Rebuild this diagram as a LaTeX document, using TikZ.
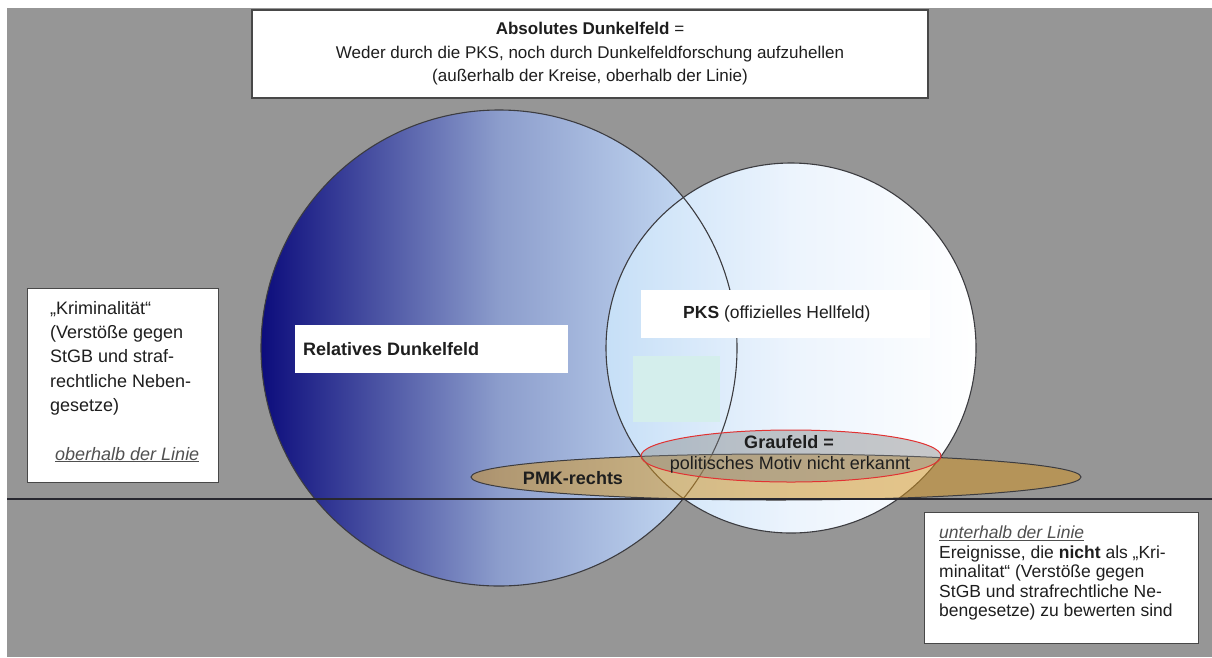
\documentclass[tikz,border=0pt]{standalone}
\usepackage{fontspec}
\setmainfont{Liberation Sans}
\usetikzlibrary{positioning}
\definecolor{bggray}{RGB}{150,150,150}
\definecolor{navydark}{RGB}{12,12,124}
\definecolor{navymid}{RGB}{140,157,204}
\definecolor{skylight}{RGB}{208,230,251}
\definecolor{hellleft}{RGB}{198,223,247}
\definecolor{hellmid}{RGB}{236,244,253}
\definecolor{circline}{RGB}{60,60,64}
\definecolor{boxline}{RGB}{72,72,72}
\definecolor{textdark}{RGB}{30,30,30}
\definecolor{notegray}{RGB}{80,80,80}
\definecolor{palecyan}{RGB}{212,238,236}
\definecolor{pmktan}{RGB}{210,148,35}
\definecolor{graured}{RGB}{225,50,50}
\definecolor{graufill}{RGB}{128,128,128}
\definecolor{linedark}{RGB}{40,40,48}
\begin{document}
\begin{tikzpicture}[x=1pt,y=-1pt,
  infobox/.style={draw=boxline, fill=white, line width=1.2pt},
  plaintext/.style={inner sep=0pt, text=textdark},
  whitebox/.style={fill=white, inner sep=0pt}]
\useasboundingbox (0,0) rectangle (1212,657);
\fill[bggray] (7,8) rectangle (1212,657);
% circles
\coordinate (dunkelc) at (499,348);
\coordinate (hellc) at (791,348);
\path[left color=navydark, right color=skylight, middle color=navymid] (dunkelc) circle[radius=238pt];
\path[left color=hellleft, right color=white, middle color=hellmid] (hellc) circle[radius=185pt];
\draw[circline, line width=1.1pt] (dunkelc) circle[radius=238pt];
\draw[circline, line width=1.1pt] (hellc) circle[radius=185pt];
% boxes inside the circles
\node[whitebox, minimum width=273pt, minimum height=48pt, anchor=north west] (relbox) at (295,325) {};
\node[plaintext, right=8pt of relbox.west, font=\bfseries\fontsize{18}{20}\selectfont] (reltext) {Relatives Dunkelfeld};
\node[whitebox, minimum width=289pt, minimum height=48pt, anchor=north west] (pksbox) at (641,290) {};
\node[plaintext, right=42pt of pksbox.west, font=\fontsize{17.5}{20}\selectfont] (pkstext) {\textbf{PKS} (offizielles Hellfeld)};
\fill[palecyan] (633,356) rectangle (720,422);
% ellipses
\coordinate (pmkc) at (776,477);
\coordinate (grauc) at (791,456);
\path[draw=circline, line width=1pt, fill=pmktan, fill opacity=0.53] (pmkc) ellipse[x radius=305pt, y radius=23pt];
\path[draw=graured, line width=1pt, fill=graufill, fill opacity=0.42] (grauc) ellipse[x radius=150pt, y radius=26pt];
\node[plaintext, font=\bfseries\fontsize{18}{20}\selectfont] (pmktext) at (573,478) {PMK-rechts};
\node[plaintext, font=\bfseries\fontsize{18}{20}\selectfont] (grautitle) at (789,442) {Graufeld =};
\node[plaintext, font=\fontsize{18}{20}\selectfont] (grautext) at (790,465) {politisches Motiv nicht erkannt};
% line
\coordinate (horizL) at (7,499);
\coordinate (horizR) at (1212,499);
\draw[linedark, line width=1.6pt] (horizL) -- (horizR);
% info boxes
\node[infobox, minimum width=676pt, minimum height=88pt, align=center, text=textdark,
  font=\fontsize{17}{23.5}\selectfont] (absbox) at (590,54)
  {\textbf{Absolutes Dunkelfeld} =\\Weder durch die PKS, noch durch Dunkelfeldforschung aufzuhellen\\(außerhalb der Kreise, oberhalb der Linie)};
\node[infobox, minimum width=191pt, minimum height=194pt, anchor=north west] (kritbox) at (27,288) {};
\node[plaintext, anchor=north west, align=left, font=\fontsize{18}{24.3}\selectfont] (krittext)
  at ([shift={(23,13)}]kritbox.north west)
  {„Kriminalität“\\(Verstöße gegen\\StGB und straf-\\rechtliche Neben-\\gesetze)\\[24.3pt]\hspace*{5pt}\textcolor{notegray}{\underline{\textit{oberhalb der Linie}}}};
\node[infobox, minimum width=274pt, minimum height=131pt, anchor=north west] (ereignbox) at (924,512) {};
\node[plaintext, anchor=north west, align=left, font=\fontsize{17.5}{19.4}\selectfont] (ereigntext)
  at ([shift={(15,14)}]ereignbox.north west)
  {\textcolor{notegray}{\underline{\textit{unterhalb der Linie}}}\\Ereignisse, die \textbf{nicht} als „Kri-\\minalitat“ (Verstöße gegen\\StGB und strafrechtliche Ne-\\bengesetze) zu bewerten sind};
\end{tikzpicture}
\end{document}
